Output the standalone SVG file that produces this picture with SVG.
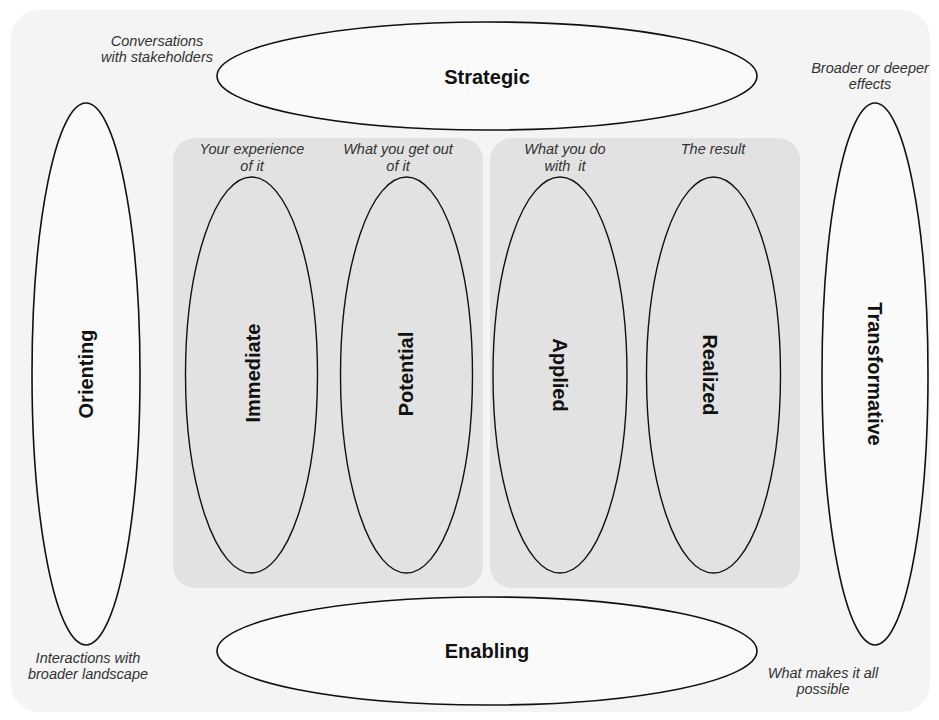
<svg xmlns="http://www.w3.org/2000/svg" width="939" height="720" viewBox="0 0 939 720">
<style>
.ell{fill:none;stroke:#111;stroke-width:1.4}
.big{fill:#fafafa;stroke:#111;stroke-width:1.6}
.panel{fill:#e2e2e2}
.lbl{font-family:"Liberation Sans",Arial,sans-serif;font-weight:bold;font-size:20px;fill:#111;text-anchor:middle}
.note{font-family:"Liberation Sans",Arial,sans-serif;font-style:italic;font-size:14.5px;fill:#333;text-anchor:middle}
</style>
<rect x="0" y="0" width="939" height="720" fill="#ffffff"/>
<rect x="11" y="10" width="919" height="702" rx="28" fill="#f4f4f4"/>
<rect class="panel" x="173" y="138" width="310" height="450" rx="22"/>
<rect class="panel" x="490" y="138" width="310" height="450" rx="22"/>
<g id="connectors"/>
<g id="strategic">
<ellipse class="big" cx="487" cy="76" rx="270" ry="54"/>
<text class="lbl" x="487" y="84">Strategic</text>
<text class="note" x="157" y="46">Conversations</text>
<text class="note" x="157" y="62">with stakeholders</text>
</g>
<g id="enabling">
<ellipse class="big" cx="487" cy="651" rx="270" ry="54"/>
<text class="lbl" x="487" y="658">Enabling</text>
<text class="note" x="823" y="678">What makes it all</text>
<text class="note" x="823" y="694">possible</text>
</g>
<g id="orienting">
<ellipse class="big" cx="86" cy="374" rx="54" ry="271"/>
<text class="lbl" transform="translate(93,374) rotate(-90)" x="0" y="0">Orienting</text>
<text class="note" x="88" y="663">Interactions with</text>
<text class="note" x="88" y="679">broader landscape</text>
</g>
<g id="transformative">
<ellipse class="big" cx="875" cy="374" rx="53" ry="271"/>
<text class="lbl" transform="translate(868,374) rotate(90)" x="0" y="0">Transformative</text>
<text class="note" x="870" y="73">Broader or deeper</text>
<text class="note" x="870" y="89">effects</text>
</g>
<g id="immediate">
<ellipse class="ell" cx="251.5" cy="375" rx="66" ry="198"/>
<text class="lbl" transform="translate(260,373) rotate(-90)" x="0" y="0">Immediate</text>
<text class="note" x="252" y="154">Your experience</text>
<text class="note" x="252" y="171">of it</text>
</g>
<g id="potential">
<ellipse class="ell" cx="406.5" cy="375" rx="66" ry="198"/>
<text class="lbl" transform="translate(413,374) rotate(-90)" x="0" y="0">Potential</text>
<text class="note" x="398" y="154">What you get out</text>
<text class="note" x="398" y="171">of it</text>
</g>
<g id="applied">
<ellipse class="ell" cx="560" cy="375" rx="67" ry="198"/>
<text class="lbl" transform="translate(553,375) rotate(90)" x="0" y="0">Applied</text>
<text class="note" x="565" y="154">What you do</text>
<text class="note" x="565" y="171" xml:space="preserve">with  it</text>
</g>
<g id="realized">
<ellipse class="ell" cx="713.5" cy="375" rx="67" ry="198"/>
<text class="lbl" transform="translate(703,375) rotate(90)" x="0" y="0">Realized</text>
<text class="note" x="713" y="154">The result</text>
</g>
</svg>
